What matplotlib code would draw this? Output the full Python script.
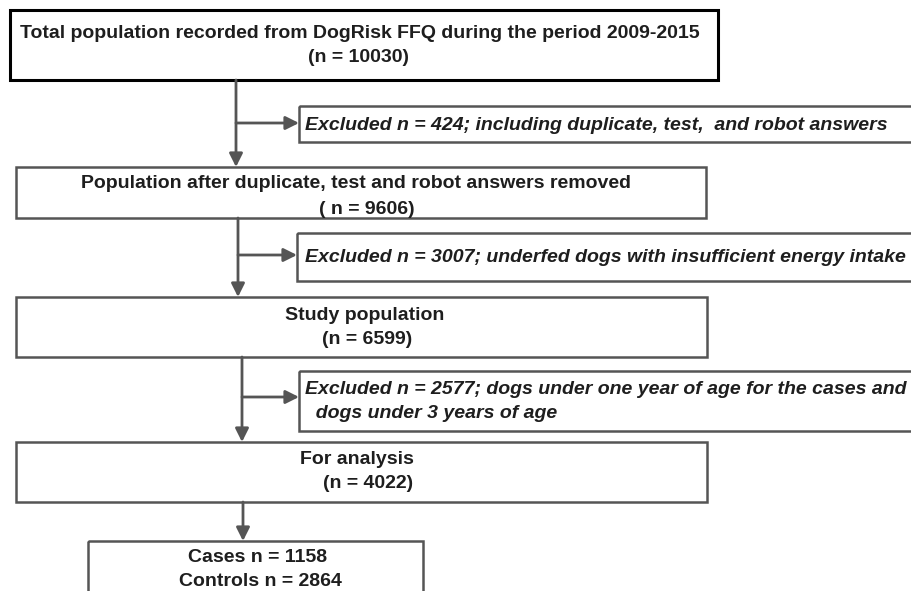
"""
Flow chart of the DogRisk FFQ study population selection
"""
import matplotlib
matplotlib.use("Agg")
import matplotlib.pyplot as plt
from matplotlib.patches import Rectangle

plt.rcParams['font.family'] = ['Liberation Sans', 'DejaVu Sans']

# counts at each step of the selection
total_n = 10030
after_dup_n = 9606
study_n = 6599
analysis_n = 4022
cases_n = 1158
controls_n = 2864
excluded_n = [424, 3007, 2577]

# box texts
main_labels = [
    ["Total population recorded from DogRisk FFQ during the period 2009-2015", f"(n = {total_n})"],
    ["Population after duplicate, test and robot answers removed", f"( n = {after_dup_n})"],
    ["Study population", f"(n = {study_n})"],
    ["For analysis", f"(n = {analysis_n})"],
    [f"Cases n = {cases_n}", f"Controls n = {controls_n}"],
]
excluded_labels = [
    [f"Excluded n = {excluded_n[0]}; including duplicate, test,  and robot answers"],
    [f"Excluded n = {excluded_n[1]}; underfed dogs with insufficient energy intake"],
    [f"Excluded n = {excluded_n[2]}; dogs under one year of age for the cases and",
     "  dogs under 3 years of age"],
]

# layout in pixel units (x0, y0, x1, y1)
main_boxes = [(10, 10, 718, 80), (16, 167, 706, 218), (16, 297, 707, 357),
              (16, 442, 707, 502), (88, 541, 423, 640)]
main_text_pos = [[(360, 34), (358, 57)], [(356, 184), (367, 209)],
                 [(365, 316), (367, 340)], [(357, 460), (368, 483)],
                 [(258, 558), (260, 581)]]
excl_boxes = [(299, 106, 960, 142), (297, 233, 960, 281), (299, 371, 960, 431)]
excl_text_pos = [[(305, 125)], [(305, 258)], [(305, 389), (305, 413)]]
trunk_x = [236, 238, 242, 243]
branch_y = [123, 255, 397]

line_col = '#555555'
text_col = '#1e1e1e'

fig = plt.figure(figsize=(9.11, 5.91), dpi=100)
ax = fig.add_axes([0, 0, 1, 1])
ax.set_xlim(0, 911)
ax.set_ylim(591, 0)
ax.axis('off')

# main boxes
for i, (x0, y0, x1, y1) in enumerate(main_boxes):
    ec = 'black' if i == 0 else line_col
    lw = 2.2 if i == 0 else 1.8
    ax.add_patch(Rectangle((x0, y0), x1 - x0, y1 - y0, fill=False, ec=ec, lw=lw))
    for (tx, ty), s in zip(main_text_pos[i], main_labels[i]):
        ax.text(tx, ty, s, ha='center', va='center', fontsize=14,
                fontweight='bold', color=text_col)

# excluded boxes
for i, (x0, y0, x1, y1) in enumerate(excl_boxes):
    ax.add_patch(Rectangle((x0, y0), x1 - x0, y1 - y0, fill=False, ec=line_col, lw=1.8))
    for (tx, ty), s in zip(excl_text_pos[i], excluded_labels[i]):
        ax.text(tx, ty, s, ha='left', va='center', fontsize=14,
                fontweight='bold', fontstyle='italic', color=text_col)

# vertical arrows between main boxes
arrow_kw = dict(arrowstyle='-|>', color=line_col, lw=2.0, mutation_scale=20,
                shrinkA=0, shrinkB=0)
for i, x in enumerate(trunk_x):
    y_start = main_boxes[i][3]
    y_end = main_boxes[i + 1][1]
    ax.annotate('', xy=(x, y_end), xytext=(x, y_start), arrowprops=arrow_kw)

# side arrows to the exclusion boxes
for i, y in enumerate(branch_y):
    ax.annotate('', xy=(excl_boxes[i][0], y), xytext=(trunk_x[i], y), arrowprops=arrow_kw)

plt.savefig('out.png', dpi=100)
